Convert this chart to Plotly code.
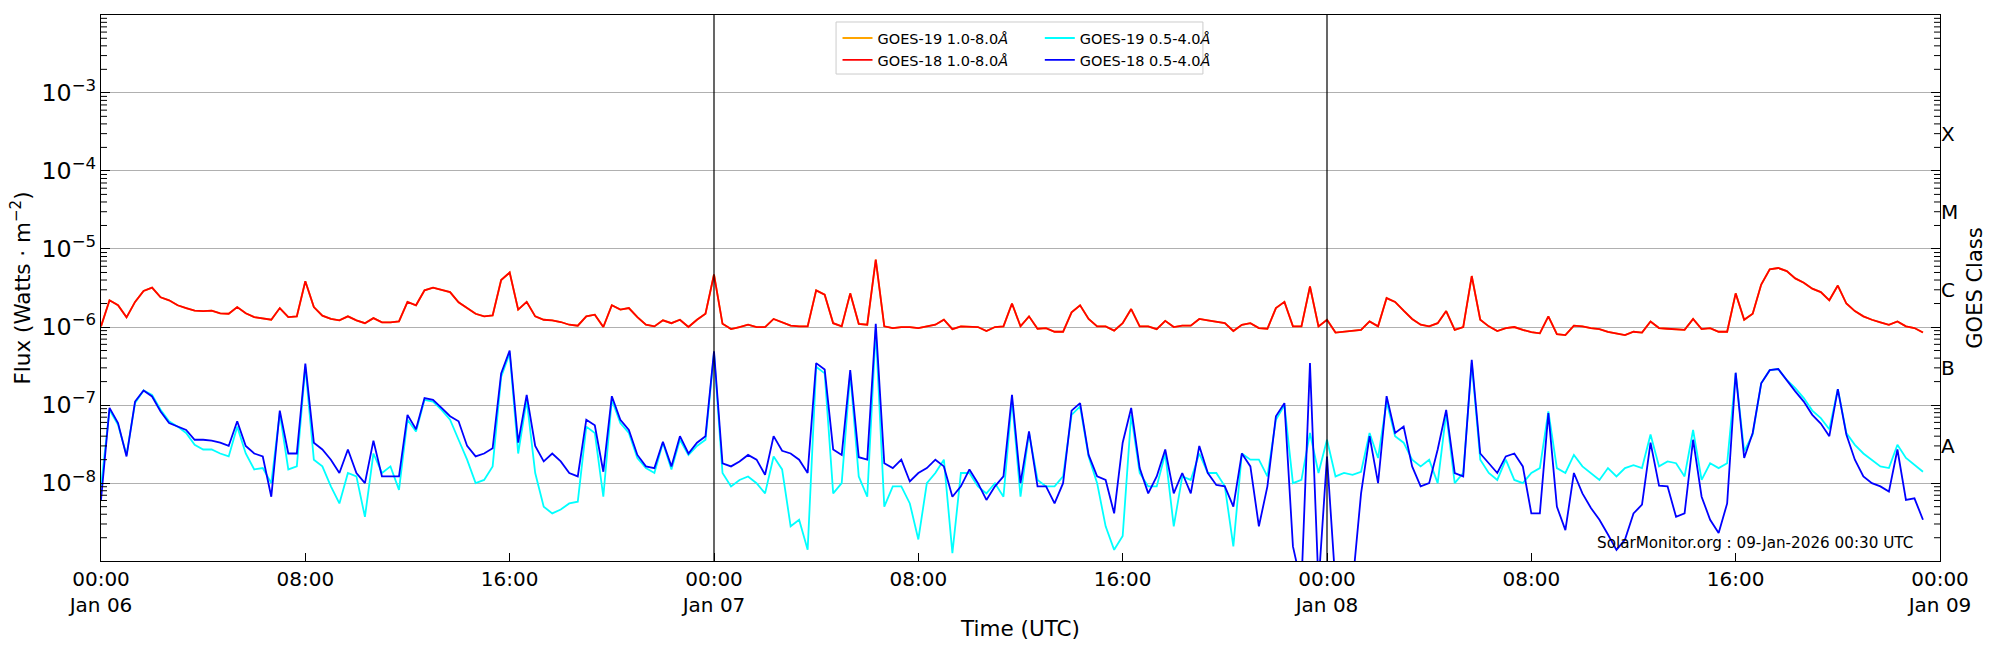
import plotly.graph_objects as go
import pandas as pd

# ---------------- data ----------------
start_time = "2026-01-06 00:00"
sample_step = "20min"

# GOES-18 1.0-8.0 A (long channel), W/m^2
goes18_long = [
    1.02e-6, 2.2e-6, 1.9e-6, 1.33e-6, 2.1e-6, 2.9e-6, 3.2e-6, 2.4e-6, 2.2e-6, 1.9e-6,
    1.75e-6, 1.62e-6, 1.6e-6, 1.62e-6, 1.5e-6, 1.48e-6, 1.8e-6, 1.5e-6, 1.34e-6, 1.29e-6,
    1.24e-6, 1.75e-6, 1.34e-6, 1.37e-6, 3.85e-6, 1.8e-6, 1.4e-6, 1.27e-6, 1.22e-6, 1.37e-6,
    1.22e-6, 1.12e-6, 1.3e-6, 1.15e-6, 1.15e-6, 1.18e-6, 2.1e-6, 1.9e-6, 2.95e-6, 3.2e-6,
    3.0e-6, 2.8e-6, 2.07e-6, 1.75e-6, 1.48e-6, 1.37e-6, 1.41e-6, 4.0e-6, 5.0e-6, 1.67e-6,
    2.1e-6, 1.37e-6, 1.24e-6, 1.22e-6, 1.16e-6, 1.07e-6, 1.04e-6, 1.37e-6, 1.44e-6, 1.0e-6,
    1.9e-6, 1.67e-6, 1.75e-6, 1.34e-6, 1.07e-6, 1.02e-6, 1.22e-6, 1.12e-6, 1.24e-6, 1.0e-6,
    1.24e-6, 1.48e-6, 4.7e-6, 1.1e-6, 0.94e-6, 1.0e-6, 1.07e-6, 1.0e-6, 1.0e-6, 1.27e-6,
    1.15e-6, 1.04e-6, 1.02e-6, 1.02e-6, 2.95e-6, 2.6e-6, 1.12e-6, 1.02e-6, 2.7e-6, 1.1e-6,
    1.07e-6, 7.3e-6, 1.02e-6, 0.97e-6, 1.0e-6, 1.0e-6, 0.97e-6, 1.02e-6, 1.07e-6, 1.24e-6,
    0.94e-6, 1.02e-6, 1.0e-6, 1.0e-6, 0.89e-6, 1.0e-6, 1.02e-6, 2.0e-6, 1.02e-6, 1.37e-6,
    0.95e-6, 0.97e-6, 0.87e-6, 0.87e-6, 1.54e-6, 1.9e-6, 1.27e-6, 1.02e-6, 1.02e-6, 0.9e-6,
    1.12e-6, 1.7e-6, 1.02e-6, 1.02e-6, 0.94e-6, 1.2e-6, 1.0e-6, 1.04e-6, 1.04e-6, 1.27e-6,
    1.22e-6, 1.18e-6, 1.12e-6, 0.89e-6, 1.07e-6, 1.12e-6, 0.97e-6, 0.95e-6, 1.75e-6, 2.1e-6,
    1.02e-6, 1.02e-6, 3.3e-6, 1.02e-6, 1.24e-6, 0.85e-6, 0.87e-6, 0.89e-6, 0.92e-6, 1.18e-6,
    1.02e-6, 2.35e-6, 2.1e-6, 1.62e-6, 1.27e-6, 1.07e-6, 1.02e-6, 1.12e-6, 1.6e-6, 0.92e-6,
    1.0e-6, 4.5e-6, 1.24e-6, 1.02e-6, 0.89e-6, 0.97e-6, 1.0e-6, 0.92e-6, 0.86e-6, 0.83e-6,
    1.37e-6, 0.81e-6, 0.79e-6, 1.04e-6, 1.02e-6, 0.97e-6, 0.94e-6, 0.87e-6, 0.83e-6, 0.79e-6,
    0.87e-6, 0.85e-6, 1.18e-6, 0.97e-6, 0.95e-6, 0.94e-6, 0.92e-6, 1.27e-6, 0.94e-6, 0.97e-6,
    0.87e-6, 0.87e-6, 2.7e-6, 1.24e-6, 1.48e-6, 3.5e-6, 5.5e-6, 5.7e-6, 5.2e-6, 4.2e-6,
    3.7e-6, 3.1e-6, 2.8e-6, 2.2e-6, 3.4e-6, 2.0e-6, 1.6e-6, 1.37e-6, 1.24e-6, 1.15e-6,
    1.07e-6, 1.18e-6, 1.02e-6, 0.97e-6, 0.85e-6,
]

# GOES-19 1.0-8.0 A: overlaps GOES-18 long channel everywhere in the picture
goes19_long = goes18_long

# GOES-18 0.5-4.0 A (short channel)
goes18_short = [
    6.1e-9, 9.2e-8, 5.9e-8, 2.2e-8, 1.11e-7, 1.54e-7, 1.29e-7, 8.3e-8, 5.9e-8, 5.3e-8,
    4.8e-8, 3.6e-8, 3.6e-8, 3.5e-8, 3.3e-8, 3.0e-8, 6.2e-8, 3.0e-8, 2.4e-8, 2.2e-8,
    6.7e-9, 8.5e-8, 2.4e-8, 2.4e-8, 3.4e-7, 3.3e-8, 2.7e-8, 2.0e-8, 1.35e-8, 2.7e-8,
    1.35e-8, 1.0e-8, 3.5e-8, 1.22e-8, 1.22e-8, 1.22e-8, 7.5e-8, 4.9e-8, 1.23e-7, 1.17e-7,
    9.2e-8, 7.2e-8, 6.2e-8, 3.0e-8, 2.2e-8, 2.4e-8, 2.8e-8, 2.55e-7, 5.0e-7, 3.3e-8,
    1.35e-7, 3.0e-8, 1.9e-8, 2.4e-8, 1.9e-8, 1.35e-8, 1.22e-8, 6.5e-8, 5.5e-8, 1.4e-8,
    1.3e-7, 6.5e-8, 4.8e-8, 2.3e-8, 1.64e-8, 1.56e-8, 3.4e-8, 1.64e-8, 4.0e-8, 2.4e-8,
    3.3e-8, 4.0e-8, 4.9e-7, 1.8e-8, 1.64e-8, 1.9e-8, 2.3e-8, 2.0e-8, 1.28e-8, 4.0e-8,
    2.6e-8, 2.4e-8, 2.0e-8, 1.35e-8, 3.45e-7, 2.85e-7, 2.7e-8, 2.3e-8, 2.8e-7, 2.15e-8,
    2.0e-8, 1.1e-6, 1.8e-8, 1.56e-8, 2.0e-8, 1.05e-8, 1.35e-8, 1.56e-8, 2.0e-8, 1.64e-8,
    6.7e-9, 9.1e-9, 1.5e-8, 1.0e-8, 6.1e-9, 9.1e-9, 1.22e-8, 1.35e-7, 1.0e-8, 4.6e-8,
    9.1e-9, 9.1e-9, 5.5e-9, 1.0e-8, 8.5e-8, 1.06e-7, 2.3e-8, 1.22e-8, 1.1e-8, 4.1e-9,
    3.3e-8, 9.2e-8, 1.56e-8, 7.4e-9, 1.22e-8, 2.7e-8, 7.4e-9, 1.35e-8, 7.4e-9, 3.0e-8,
    1.35e-8, 9.5e-9, 9.1e-9, 5.0e-9, 2.4e-8, 1.64e-8, 2.8e-9, 9.1e-9, 7.2e-8, 1.06e-7,
    1.55e-9, 5e-10, 3.45e-7, 5e-10, 2.2e-8, 5e-10, 5e-10, 5e-10, 7.4e-9, 4.0e-8,
    1.0e-8, 1.3e-7, 4.4e-8, 5.3e-8, 1.64e-8, 9.1e-9, 1.0e-8, 2.7e-8, 8.7e-8, 1.35e-8,
    1.22e-8, 3.8e-7, 2.4e-8, 1.8e-8, 1.35e-8, 2.2e-8, 2.4e-8, 1.64e-8, 4.1e-9, 4.1e-9,
    7.9e-8, 5.0e-9, 2.5e-9, 1.35e-8, 7.4e-9, 4.8e-9, 3.4e-9, 2.2e-9, 1.4e-9, 1.9e-9,
    4.1e-9, 5.3e-9, 3.3e-8, 9.3e-9, 9.1e-9, 3.7e-9, 4.1e-9, 3.6e-8, 6.7e-9, 3.4e-9,
    2.3e-9, 5.5e-9, 2.6e-7, 2.1e-8, 4.4e-8, 1.9e-7, 2.8e-7, 2.9e-7, 2.05e-7, 1.5e-7,
    1.11e-7, 7.5e-8, 5.8e-8, 4.0e-8, 1.6e-7, 4.2e-8, 2.0e-8, 1.22e-8, 1.0e-8, 9.1e-9,
    7.8e-9, 2.7e-8, 6.1e-9, 6.4e-9, 3.4e-9,
]

# GOES-19 0.5-4.0 A (short channel)
goes19_short = [
    9.1e-9, 8.7e-8, 5.6e-8, 2.3e-8, 1.06e-7, 1.54e-7, 1.35e-7, 8.7e-8, 6.2e-8, 5.3e-8,
    4.4e-8, 3.1e-8, 2.7e-8, 2.7e-8, 2.4e-8, 2.2e-8, 5.3e-8, 2.4e-8, 1.5e-8, 1.56e-8,
    1.0e-8, 7.9e-8, 1.5e-8, 1.64e-8, 3.1e-7, 2.0e-8, 1.64e-8, 9.1e-9, 5.5e-9, 1.35e-8,
    1.22e-8, 3.7e-9, 2.4e-8, 1.35e-8, 1.64e-8, 8.2e-9, 6.5e-8, 4.6e-8, 1.17e-7, 1.11e-7,
    8.7e-8, 6.5e-8, 3.6e-8, 2.0e-8, 1.0e-8, 1.1e-8, 1.64e-8, 2.3e-7, 4.6e-7, 2.4e-8,
    1.17e-7, 1.35e-8, 5.0e-9, 4.1e-9, 4.6e-9, 5.5e-9, 5.8e-9, 5.3e-8, 4.4e-8, 6.7e-9,
    1.17e-7, 5.9e-8, 4.4e-8, 2.1e-8, 1.56e-8, 1.35e-8, 3.3e-8, 1.5e-8, 3.6e-8, 2.3e-8,
    3.0e-8, 3.6e-8, 4.6e-7, 1.35e-8, 9.1e-9, 1.1e-8, 1.22e-8, 1.0e-8, 7.4e-9, 2.2e-8,
    1.5e-8, 2.8e-9, 3.4e-9, 1.4e-9, 3.1e-7, 2.55e-7, 7.4e-9, 1.0e-8, 2.55e-7, 1.22e-8,
    6.7e-9, 9.2e-7, 5.0e-9, 9.1e-9, 9.1e-9, 5.5e-9, 1.9e-9, 1.0e-8, 1.35e-8, 2.0e-8,
    1.27e-9, 1.35e-8, 1.35e-8, 9.1e-9, 7.4e-9, 1.0e-8, 6.7e-9, 1.17e-7, 6.7e-9, 4.4e-8,
    1.1e-8, 9.1e-9, 9.1e-9, 1.22e-8, 7.5e-8, 9.6e-8, 2.2e-8, 1.0e-8, 2.8e-9, 1.4e-9,
    2.1e-9, 7.5e-8, 1.35e-8, 9.1e-9, 9.1e-9, 2.4e-8, 2.8e-9, 1.22e-8, 1.1e-8, 2.4e-8,
    1.35e-8, 1.35e-8, 9.1e-9, 1.55e-9, 2.4e-8, 2.0e-8, 2.0e-8, 1.22e-8, 6.5e-8, 1.0e-7,
    1.0e-8, 1.1e-8, 4.4e-8, 1.35e-8, 3.6e-8, 1.22e-8, 1.35e-8, 1.28e-8, 1.4e-8, 4.4e-8,
    2.1e-8, 1.11e-7, 4.0e-8, 3.3e-8, 2.0e-8, 1.64e-8, 2.0e-8, 1.0e-8, 7.9e-8, 1.0e-8,
    1.35e-8, 3.45e-7, 2.0e-8, 1.35e-8, 1.1e-8, 2.0e-8, 1.1e-8, 1.0e-8, 1.35e-8, 1.56e-8,
    8.3e-8, 1.56e-8, 1.35e-8, 2.3e-8, 1.64e-8, 1.35e-8, 1.1e-8, 1.56e-8, 1.22e-8, 1.56e-8,
    1.7e-8, 1.56e-8, 4.2e-8, 1.64e-8, 1.9e-8, 1.8e-8, 1.22e-8, 4.8e-8, 1.1e-8, 1.8e-8,
    1.56e-8, 1.8e-8, 2.55e-7, 2.55e-8, 4.2e-8, 1.9e-7, 2.8e-7, 2.9e-7, 2.1e-7, 1.65e-7,
    1.23e-7, 8.5e-8, 6.8e-8, 4.9e-8, 1.6e-7, 4.4e-8, 3.1e-8, 2.4e-8, 2.0e-8, 1.64e-8,
    1.56e-8, 3.1e-8, 2.1e-8, 1.7e-8, 1.4e-8,
]

assert len(goes18_long) == len(goes18_short) == len(goes19_short), (
    len(goes18_long), len(goes18_short), len(goes19_short))

x_tick_values = ["2026-01-06 00:00", "2026-01-06 08:00", "2026-01-06 16:00",
                 "2026-01-07 00:00", "2026-01-07 08:00", "2026-01-07 16:00",
                 "2026-01-08 00:00", "2026-01-08 08:00", "2026-01-08 16:00",
                 "2026-01-09 00:00"]
x_tick_labels = ["00:00<br>Jan 06", "08:00", "16:00",
                 "00:00<br>Jan 07", "08:00", "16:00",
                 "00:00<br>Jan 08", "08:00", "16:00",
                 "00:00<br>Jan 09"]
day_boundaries = ["2026-01-07 00:00", "2026-01-08 00:00"]
class_letters = ["A", "B", "C", "M", "X"]
class_positions = [3e-8, 3e-7, 3e-6, 3e-5, 3e-4]
stamp_text = "SolarMonitor.org : 09-Jan-2026 00:30 UTC"

# ---------------- figure ----------------
times = pd.date_range(start_time, periods=len(goes18_long), freq=sample_step)
FONT = "DejaVu Sans"
LW = 1.8
PLOT_W = 2000 - 101 - 60          # plot-area width in px (from the margins below)
MINOR_LEN = 6.0 / PLOT_W          # minor tick length as a fraction of the plot width

fig = go.Figure()
fig.add_trace(go.Scatter(x=times, y=goes19_long, mode="lines", name="GOES-19 1.0-8.0<i>Å</i>",
                         line=dict(color="#ffa500", width=LW), legend="legend", hoverinfo="skip"))
fig.add_trace(go.Scatter(x=times, y=goes19_short, mode="lines", name="GOES-19 0.5-4.0<i>Å</i>",
                         line=dict(color="#00ffff", width=LW), legend="legend2", hoverinfo="skip"))
fig.add_trace(go.Scatter(x=times, y=goes18_long, mode="lines", name="GOES-18 1.0-8.0<i>Å</i>",
                         line=dict(color="#ff0000", width=LW), legend="legend", hoverinfo="skip"))
fig.add_trace(go.Scatter(x=times, y=goes18_short, mode="lines", name="GOES-18 0.5-4.0<i>Å</i>",
                         line=dict(color="#0000ff", width=LW), legend="legend2", hoverinfo="skip"))
# invisible trace so that the right-hand class axis is drawn
fig.add_trace(go.Scatter(x=[times[0]], y=[class_positions[0]], yaxis="y2", mode="markers",
                         marker=dict(opacity=0), showlegend=False, hoverinfo="skip"))

yrange = [-8.997, -2.003]
minor_tick_values = [m * 10.0 ** e for e in range(-9, -2) for m in range(2, 10)]

shapes = []
# minor log ticks, inside the frame, on the left and the right (shape y uses data values on log axes)
for v in minor_tick_values:
    shapes.append(dict(type="line", xref="paper", yref="y", x0=0, x1=MINOR_LEN, y0=v, y1=v,
                       line=dict(color="black", width=1), layer="above"))
    shapes.append(dict(type="line", xref="paper", yref="y", x0=1 - MINOR_LEN, x1=1, y0=v, y1=v,
                       line=dict(color="black", width=1), layer="above"))
for d in day_boundaries:
    shapes.append(dict(type="line", xref="x", yref="paper", x0=d, x1=d, y0=0, y1=1,
                       line=dict(color="black", width=1.2)))
# legend frame
shapes.append(dict(type="rect", xref="paper", yref="paper",
                   x0=0.3997, x1=0.5992, y0=0.8919, y1=0.9872,
                   line=dict(color="#cccccc", width=1), fillcolor="rgba(255,255,255,0.8)"))

fig.update_layout(
    width=2000, height=650,
    margin=dict(l=101, r=60, t=15, b=89),
    paper_bgcolor="white", plot_bgcolor="white",
    font=dict(family=FONT, size=20, color="black"),
    shapes=shapes,
    xaxis=dict(
        type="date", range=["2026-01-06 00:00", "2026-01-09 00:00"],
        tickmode="array", tickvals=x_tick_values, ticktext=x_tick_labels,
        ticks="inside", ticklen=8, tickcolor="black",
        showline=True, linecolor="black", linewidth=1, mirror=True,
        showgrid=False, zeroline=False,
        tickfont=dict(family=FONT, size=20, color="black"),
        title=dict(text="Time (UTC)", font=dict(family=FONT, size=21.5), standoff=4),
    ),
    yaxis=dict(
        type="log", range=yrange, dtick=1, exponentformat="power", showexponent="all",
        ticks="inside", ticklen=9, tickcolor="black",
        showline=True, linecolor="black", linewidth=1, mirror="allticks",
        showgrid=True, gridcolor="#b0b0b0", gridwidth=1, zeroline=False,
        tickfont=dict(family=FONT, size=19, color="black"),
        title=dict(text="Flux (Watts · m<sup>−2</sup>)", font=dict(family=FONT, size=21.5), standoff=4),
    ),
    yaxis2=dict(
        overlaying="y", side="right", type="log", range=yrange,
        tickmode="array", tickvals=class_positions, ticktext=class_letters,
        ticks="", showgrid=False, showline=False, zeroline=False,
        tickfont=dict(family=FONT, size=20, color="black"),
        title=dict(text="GOES Class", font=dict(family=FONT, size=21), standoff=10),
    ),
    legend=dict(x=0.4005, y=0.987, xanchor="left", yanchor="top", orientation="v",
                bgcolor="rgba(0,0,0,0)", borderwidth=0, tracegroupgap=0,
                font=dict(family=FONT, size=14.5, color="black")),
    legend2=dict(x=0.5105, y=0.987, xanchor="left", yanchor="top", orientation="v",
                 bgcolor="rgba(0,0,0,0)", borderwidth=0, tracegroupgap=0,
                 font=dict(family=FONT, size=14.5, color="black")),
    annotations=[dict(text=stamp_text, xref="paper", yref="paper", x=0.9864, y=0.033,
                      xanchor="right", yanchor="middle", showarrow=False,
                      font=dict(family=FONT, size=15.2, color="black"))],
    showlegend=True,
)

fig.write_html("out.html")
